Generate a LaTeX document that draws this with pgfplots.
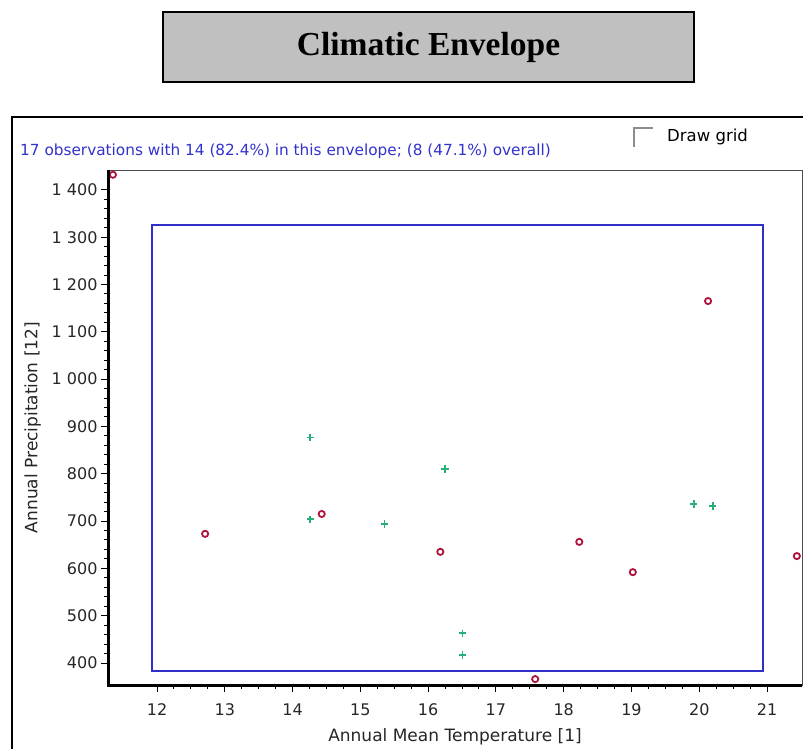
\documentclass[border=0pt]{standalone}
\usepackage{fontspec}
\setmainfont{DejaVu Sans}
\newfontfamily\titlefont{Liberation Serif}
\usepackage{pgfplots}
\pgfplotsset{compat=1.18}

\definecolor{envblue}{RGB}{48,48,200}
\definecolor{obsred}{RGB}{175,20,60}
\definecolor{obsgreen}{RGB}{40,175,120}
\definecolor{txtblue}{RGB}{50,50,205}
\definecolor{boxgray}{RGB}{192,192,192}

\begin{document}
\begin{tikzpicture}
% page: 1pt per pixel of the reference
\path[use as bounding box] (0pt,0pt) rectangle (803pt,-749pt);

% title box
\draw[fill=boxgray, line width=2pt] (163pt,-12pt) rectangle (694pt,-82pt);
\node[font=\titlefont\bfseries\fontsize{33.5}{40}\selectfont] at (428.5pt,-47pt) {Climatic Envelope};

% panel frame
\draw[line width=2.5pt] (12pt,-749pt) -- (12pt,-117pt) -- (803pt,-117pt);

% status line and checkbox
\node[anchor=west, inner sep=0pt, text=txtblue, font=\fontsize{15.3}{18}\selectfont] at (20pt,-151pt)
  {17 observations with 14 (82.4\%) in this envelope; (8 (47.1\%) overall)};
\draw[black!45, line width=1.5pt] (634pt,-147pt) -- (634pt,-128pt) -- (653pt,-128pt);
\node[anchor=west, inner sep=0pt, font=\fontsize{16.5}{19}\selectfont] at (667pt,-137pt) {Draw grid};

\begin{axis}[
    name=main,
    at={(108pt,-170pt)}, anchor=north west,
    scale only axis, width=694pt, height=515pt,
    xmin=11.277, xmax=21.516,
    ymin=353.5, ymax=1442,
    xtick={12,13,...,21},
    ytick={400,500,...,1400},
    xticklabel={\raisebox{-8pt}[\height][\depth]{\pgfmathprintnumber{\tick}}},
    minor x tick num=3,
    minor y tick num=4,
    xtick pos=left, ytick pos=left,
    tick align=outside,
    major tick length=7pt, minor tick length=4pt,
    every tick/.style={black, line width=1pt},
    axis line style={draw=black!70, line width=1pt},
    tick label style={font=\fontsize{16}{19}\selectfont, text=black!85},
    label style={font=\fontsize{17}{20}\selectfont, text=black!85},
    xlabel style={yshift=-14pt},
    ylabel style={yshift=4pt},
    /pgf/number format/assume math mode=true,
    /pgf/number format/1000 sep={\ },
    xlabel={Annual Mean Temperature [1]},
    ylabel={Annual Precipitation [12]},
    clip=false,
]
% envelope
\addplot[envblue, line width=1.8pt, line cap=rect] coordinates {
    (11.93,383) (20.94,383) (20.94,1326) (11.93,1326) (11.93,383)};
% observations outside the envelope
\addplot[only marks, mark=o, mark size=3.1pt, mark options={draw=obsred, line width=1.8pt}] coordinates {
    (11.35,1432) (12.71,673) (14.43,715) (16.18,635) (18.23,656)
    (19.02,592) (20.13,1165) (21.44,626) (17.58,366)};
% observations inside the envelope
\addplot[only marks, mark=+, mark size=3.6pt, mark options={draw=obsgreen, line width=1.4pt}] coordinates {
    (14.26,876) (14.26,704) (15.36,694) (16.25,810)
    (19.92,736) (20.20,732) (16.51,463) (16.51,417)};
\end{axis}
\draw[black, line width=3pt] (main.north west) -- (main.south west) -- (main.south east);
\end{tikzpicture}
\end{document}
